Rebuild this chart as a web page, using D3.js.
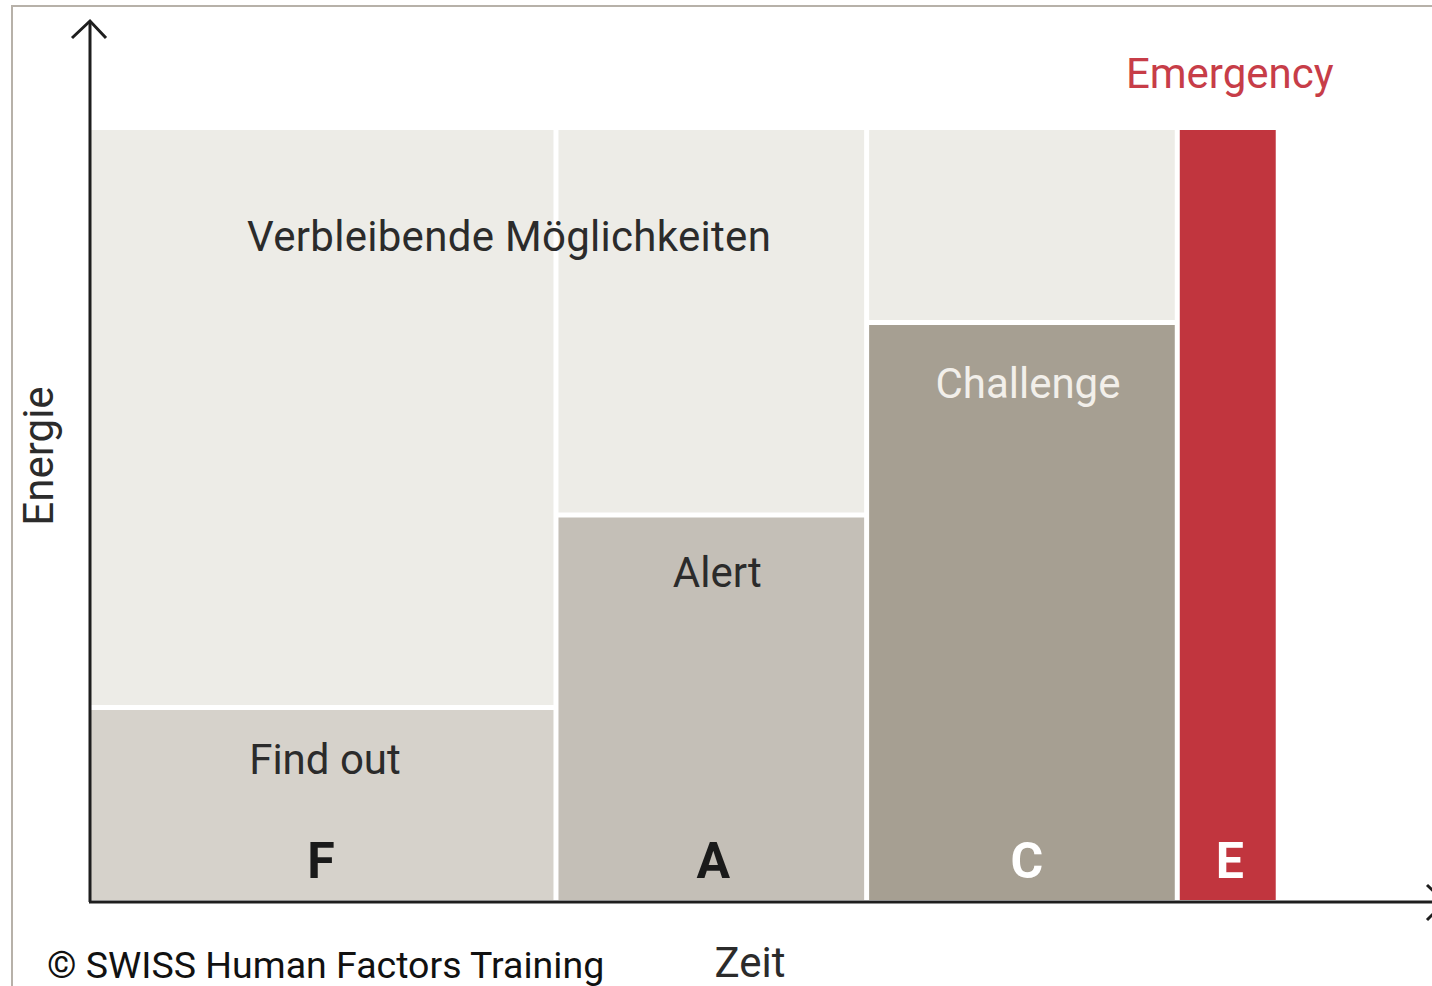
<!DOCTYPE html>
<html>
<head>
<meta charset="utf-8">
<script src="https://cdn.jsdelivr.net/npm/d3@7"></script>
<style>
  body { margin: 0; background: #fff; }
  svg { display: block; }
  text { font-family: Roboto, "Liberation Sans", sans-serif; }
</style>
</head>
<body>
<div class="chart"></div>
<script>
// phases of the FACE model, time span and energy level of each
const phases = ["Find out", "Alert", "Challenge", "Emergency"];
const letters = ["F", "A", "C", "E"];
const startTime = [0, 3, 5, 7];
const endTime = [3, 5, 7, 7.65];
const energy = [25, 50, 75, 100];
const maxEnergy = 100;
const timeMax = 8.64;
const fills = ["#d6d2cb", "#c4bfb7", "#a69f92", "#c1353e"];
const labelColors = ["#2b2b2b", "#2b2b2b", "#f2efea", "#c73d48"];
const letterColors = ["#1a1a1a", "#1a1a1a", "#ffffff", "#ffffff"];

document.addEventListener("DOMContentLoaded", function () {
  const w = 1432;
  const h = 986;
  const left = 90;
  const base = 900;
  const top = 130;
  const gap = 2.5;
  const labelOffset = [66, 72, 75, 0];

  const svg = d3.select(".chart")
    .append("svg")
    .attr("width", w)
    .attr("height", h);

  // frame of the picture
  svg.append("rect")
    .attr("x", 12).attr("y", 6)
    .attr("width", w + 20).attr("height", h + 20)
    .attr("fill", "#fff")
    .attr("stroke", "#b7b1a9")
    .attr("stroke-width", 2);

  const xScale = d3.scaleLinear().domain([0, timeMax]).range([left, w]);
  const yScale = d3.scaleLinear().domain([0, maxEnergy]).range([base, top]);

  const idx = d3.range(phases.length);

  // remaining possibilities (light part above each phase)
  svg.selectAll("rect.rest")
    .data(idx.filter(i => energy[i] < maxEnergy))
    .enter()
    .append("rect")
    .attr("class", "rest")
    .attr("x", i => xScale(startTime[i]) + (i === 0 ? 1 : gap))
    .attr("y", yScale(maxEnergy))
    .attr("width", i => xScale(endTime[i]) - xScale(startTime[i]) - gap - (i === 0 ? 1 : gap))
    .attr("height", i => yScale(energy[i]) - yScale(maxEnergy) - gap)
    .attr("fill", "#edece7");

  // phase bars
  svg.selectAll("rect.phase")
    .data(idx)
    .enter()
    .append("rect")
    .attr("class", "phase")
    .attr("x", i => xScale(startTime[i]) + (i === 0 ? 1 : gap))
    .attr("y", i => yScale(energy[i]) + (energy[i] < maxEnergy ? gap : 0))
    .attr("width", i => xScale(endTime[i]) - xScale(startTime[i]) - gap - (i === 0 ? 1 : gap))
    .attr("height", i => yScale(0) - yScale(energy[i]) - (energy[i] < maxEnergy ? gap : 0))
    .attr("fill", i => fills[i]);

  svg.append("text")
    .attr("x", 247)
    .attr("y", yScale(maxEnergy) + 121)
    .attr("font-size", 42)
    .attr("letter-spacing", 0.3)
    .attr("fill", "#2b2b2b")
    .text("Verbleibende Möglichkeiten");

  const mid = i => (xScale(startTime[i]) + xScale(endTime[i])) / 2;

  // phase names
  svg.selectAll("text.phase")
    .data(idx)
    .enter()
    .append("text")
    .attr("class", "phase")
    .attr("x", i => mid(i) + (i === 2 ? 6 : i === 1 ? 6 : 2))
    .attr("y", i => i === 3 ? 88 : yScale(energy[i]) + labelOffset[i])
    .attr("text-anchor", "middle")
    .attr("font-size", 42)
    .attr("fill", i => labelColors[i])
    .text(i => phases[i]);

  // big letters
  svg.selectAll("text.letter")
    .data(idx)
    .enter()
    .append("text")
    .attr("class", "letter")
    .attr("x", i => mid(i) + (i === 2 ? 5 : i === 0 ? -2 : 2))
    .attr("y", 878)
    .attr("text-anchor", "middle")
    .attr("font-size", 50)
    .attr("font-weight", "bold")
    .attr("fill", i => letterColors[i])
    .text(i => letters[i]);

  // axes with arrow heads
  const axis = svg.append("g")
    .attr("fill", "none")
    .attr("stroke", "#1e1e1e")
    .attr("stroke-width", 3);
  axis.append("path").attr("d", "M" + xScale(0) + "," + (base + 2) + "V22");
  axis.append("path").attr("d", "M72,38L" + xScale(0) + ",21L106,38");
  axis.append("path").attr("d", "M" + (xScale(0) - 1) + "," + (base + 2) + "H" + w);
  axis.append("path").attr("d", "M1427,885L1445," + (base + 2) + "L1427,920");

  svg.append("text")
    .attr("transform", "translate(53,456) rotate(-90)")
    .attr("text-anchor", "middle")
    .attr("font-size", 42)
    .attr("fill", "#2b2b2b")
    .text("Energie");

  svg.append("text")
    .attr("x", 750)
    .attr("y", 977)
    .attr("text-anchor", "middle")
    .attr("font-size", 42)
    .attr("fill", "#2b2b2b")
    .text("Zeit");

  svg.append("text")
    .attr("x", 47)
    .attr("y", 978)
    .attr("font-family", "'DejaVu Sans Condensed', 'DejaVu Sans', sans-serif")
    .attr("font-size", 37.5)
    .attr("fill", "#111")
    .text("© SWISS Human Factors Training");
});
</script>
</body>
</html>
